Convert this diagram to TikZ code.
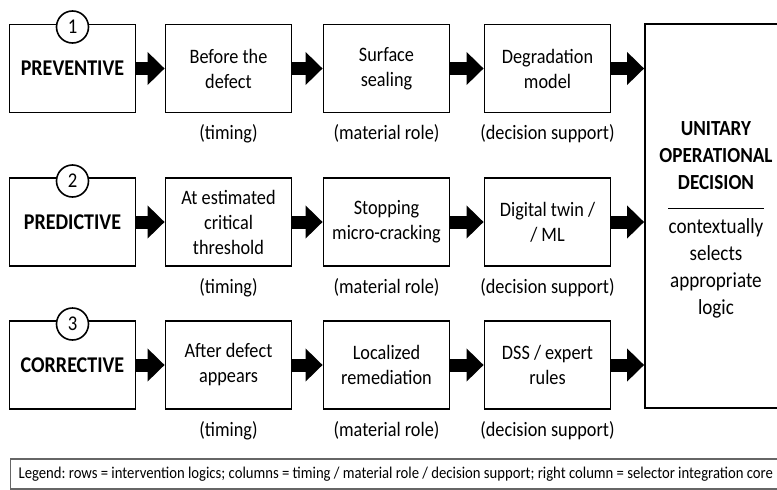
\documentclass[tikz,border=0pt]{standalone}
\usepackage{fontspec}
\setmainfont{Carlito}
\newfontfamily\narrowfont[FakeStretch=0.89]{Carlito}
\usetikzlibrary{arrows.meta,positioning}
\frenchspacing

\begin{document}
\begin{tikzpicture}[x=1pt,y=-1pt,
        box/.style={shape=rectangle,draw=black,line width=1.8pt,minimum width=126pt,minimum height=88pt,align=center,inner sep=2pt,font=\narrowfont\fontsize{20.5}{25}\selectfont},
        logicbox/.style={box,font=\narrowfont\fontsize{22.5}{25}\selectfont\bfseries},
        num/.style={shape=circle,draw=black,fill=white,line width=1.6pt,minimum size=32pt,inner sep=0pt,font=\narrowfont\fontsize{21}{21}\selectfont},
        role/.style={inner sep=1pt,font=\narrowfont\fontsize{20.5}{22}\selectfont},
        blockarrow/.style={line width=13pt,-{Triangle[length=17pt,width=32pt]}}]
        \clip (0,0) rectangle (777,490);
        \fill[white] (0,0) rectangle (777,490);

        \node[logicbox] (prev) at (72.5,68.5) {PREVENTIVE};
        \node[box] (t1) at (228.5,68.5) {Before the\\defect};
        \node[box] (m1) at (386.5,68.5) {Surface\\sealing};
        \node[box] (d1) at (547.5,68.5) {Degradation\\model};
        \node[num] (n1) at (72.5,27) {1};

        \node[logicbox] (pred) at (72.5,222) {PREDICTIVE};
        \node[box] (t2) at (228.5,222) {At estimated\\critical\\threshold};
        \node[box] (m2) at (386.5,222) {Stopping\\micro-cracking};
        \node[box] (d2) at (547.5,222) {Digital twin /\\/ ML};
        \node[num] (n2) at (72.5,181) {2};

        \node[logicbox] (corr) at (72.5,365) {CORRECTIVE};
        \node[box] (t3) at (228.5,365) {After defect\\appears};
        \node[box] (m3) at (386.5,365) {Localized\\remediation};
        \node[box] (d3) at (547.5,365) {DSS / expert\\rules};
        \node[num] (n3) at (72.5,324) {3};

        \node[role, below=10pt of t1] (t1r) {(timing)};
        \node[role, below=10pt of m1] (m1r) {(material role)};
        \node[role, below=10pt of d1] (d1r) {(decision support)};
        \node[role, below=10pt of t2] (t2r) {(timing)};
        \node[role, below=10pt of m2] (m2r) {(material role)};
        \node[role, below=10pt of d2] (d2r) {(decision support)};
        \node[role, below=10pt of t3] (t3r) {(timing)};
        \node[role, below=10pt of m3] (m3r) {(material role)};
        \node[role, below=10pt of d3] (d3r) {(decision support)};

        \node[box,minimum width=145pt,minimum height=384pt] (decision) at (717.5,216) {};
        \node[align=center,inner sep=0pt,font=\narrowfont\fontsize{21.5}{27}\selectfont] (selector) at (716,220)
        {\textbf{UNITARY}\\\textbf{OPERATIONAL}\\\textbf{DECISION}\\[-7.5pt]\rule{96pt}{1.2pt}\\[-3pt]contextually\\selects\\appropriate\\logic};

        \node[shape=rectangle,draw=black!60,line width=1.2pt,anchor=west,minimum height=30pt,inner xsep=8pt,font=\narrowfont\fontsize{16.5}{18}\selectfont] (legend) at (10,474)
        {Legend: rows = intervention logics; columns = timing / material role / decision support; right column = selector integration core};

        \path[blockarrow]
        (prev) edge (t1)
        (t1) edge (m1)
        (m1) edge (d1)
        (d1) edge (d1 -| decision.west)
        (pred) edge (t2)
        (t2) edge (m2)
        (m2) edge (d2)
        (d2) edge (d2 -| decision.west)
        (corr) edge (t3)
        (t3) edge (m3)
        (m3) edge (d3)
        (d3) edge (d3 -| decision.west);
\end{tikzpicture}
\end{document}
